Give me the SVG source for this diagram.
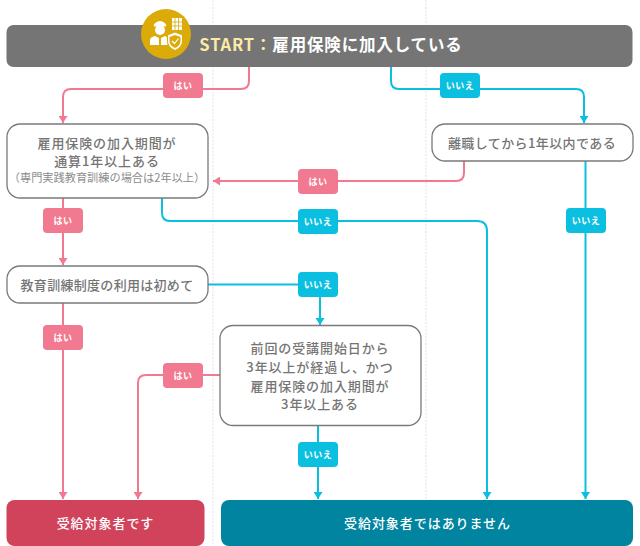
<svg xmlns="http://www.w3.org/2000/svg" width="640" height="546" viewBox="0 0 640 546">
<defs>
<marker id="arrow-pink" markerUnits="userSpaceOnUse" markerWidth="7" markerHeight="9" refX="7" refY="4.5" orient="auto" viewBox="0 0 7 9"><path d="M0 0L7 4.5L0 9Z" fill="#f27a90"/></marker>
<marker id="arrow-blue" markerUnits="userSpaceOnUse" markerWidth="7" markerHeight="9" refX="7" refY="4.5" orient="auto" viewBox="0 0 7 9"><path d="M0 0L7 4.5L0 9Z" fill="#0bbfe0"/></marker>
</defs>
<style>
text{font-family:"Noto Sans CJK JP","Noto Sans",sans-serif;text-anchor:middle;font-weight:700}
.guide{stroke:#e2e2e2;stroke-width:1;stroke-dasharray:2 1.5;fill:none}
.pink{fill:none;stroke:#f27a90;stroke-width:2;marker-end:url(#arrow-pink)}
.blue{fill:none;stroke:#0bbfe0;stroke-width:2;marker-end:url(#arrow-blue)}
.box{fill:#fff;stroke:#7a7a7a;stroke-width:1.3}
.t{font-size:13px;fill:#757575;letter-spacing:.9px;font-weight:500}
.s{font-size:11.2px;fill:#8c8c8c;font-weight:400}
.b{font-size:9px;fill:#fff;letter-spacing:.5px}
.bp{fill:#f27a90}
.bb{fill:#0bbfe0}
.r{font-size:13px;fill:#fff;letter-spacing:.95px;font-weight:500}
</style>
<path class="guide" d="M213 0V546M426 0V546"/>
<g id="connectors">
<path class="pink" d="M249 67V81Q249 89 241 89H71Q63 89 63 97V123"/>
<path class="blue" d="M391 67V81Q391 89 399 89H576Q584 89 584 97V123"/>
<path class="pink" d="M464 161V173Q464 181 456 181H213"/>
<path class="blue" d="M162 198V213Q162 221 170 221H477Q487 221 487 231V499"/>
<path class="blue" d="M585.500 161V499"/>
<path class="pink" d="M63 198V265"/>
<path class="blue" d="M208 284.500H312Q320 284.500 320 292V325"/>
<path class="pink" d="M63 303V499"/>
<path class="pink" d="M220 375H146Q138 375 138 383V499"/>
<path class="blue" d="M318 425V499"/>
</g>
<g id="badges">
<g><rect class="bp" x="163" y="73" width="40" height="25" rx="4"/><text class="b" x="183" y="89">はい</text></g>
<g><rect class="bb" x="440" y="73" width="40" height="25" rx="4"/><text class="b" x="460" y="89">いいえ</text></g>
<g><rect class="bp" x="298" y="169" width="40" height="25" rx="4"/><text class="b" x="318" y="185">はい</text></g>
<g><rect class="bb" x="298" y="209" width="40" height="25" rx="4"/><text class="b" x="318" y="225">いいえ</text></g>
<g><rect class="bb" x="566" y="208" width="40" height="25" rx="4"/><text class="b" x="586" y="224">いいえ</text></g>
<g><rect class="bp" x="43" y="208" width="40" height="25" rx="4"/><text class="b" x="63" y="224">はい</text></g>
<g><rect class="bb" x="298" y="272" width="40" height="25" rx="4"/><text class="b" x="318" y="288">いいえ</text></g>
<g><rect class="bp" x="43" y="325" width="40" height="25" rx="4"/><text class="b" x="63" y="341">はい</text></g>
<g><rect class="bp" x="163" y="363" width="40" height="25" rx="4"/><text class="b" x="183" y="379">はい</text></g>
<g><rect class="bb" x="298" y="442" width="40" height="25" rx="4"/><text class="b" x="318" y="458">いいえ</text></g>
</g>
<g id="start">
<rect x="6.500" y="25" width="626" height="42" rx="7" fill="#757575"/>
<text x="331" y="51" font-size="16.500" fill="#fff" letter-spacing=".85" font-weight="500"><tspan fill="#fde9a8">START：</tspan>雇用保険に加入している</text>
<circle cx="166" cy="34" r="25" fill="#dbab0a"/>
<g fill="#fff">
<path d="M172 18H182V30H172Z"/>
<circle cx="160" cy="30" r="5"/>
<path d="M153.500 25Q160 17 166.500 25L165.500 26.500H154.500Z"/>
<path d="M150 45V40Q150 37 155 36L159 38V45Z"/>
<path d="M161 38L165 36Q167 37 167.500 38V45H161Z"/>
<path d="M175 32L182.500 35V41Q182.500 47 175 50.500Q167.500 47 167.500 41V35Z" stroke="#dbab0a"/>
</g>
<path d="M175 30V18M178.500 30V18M172 22H182M172 26H182" stroke="#dbab0a" stroke-width=".8" fill="none"/>
<path d="M175 35L180.500 37V41Q180.500 45.500 175 48Q169.500 45.500 169.500 41V37Z" fill="#dbab0a"/>
<path d="M172 41L174.500 43.500L178.500 38.500" fill="none" stroke="#fff" stroke-width="1.200"/>
</g>
<g id="n1">
<rect class="box" x="7" y="124" width="201" height="74" rx="13"/>
<text class="t" x="107" y="148">雇用保険の加入期間が</text>
<text class="t" x="107" y="166">通算1年以上ある</text>
<text class="s" x="107" y="182">（専門実践教育訓練の場合は2年以上）</text>
</g>
<g id="n2">
<rect class="box" x="432" y="124" width="201" height="37" rx="13"/>
<text class="t" x="532" y="148" style="letter-spacing:.4px">離職してから1年以内である</text>
</g>
<g id="n3">
<rect class="box" x="7" y="266" width="201" height="37" rx="13"/>
<text class="t" x="107" y="290" style="letter-spacing:.3px">教育訓練制度の利用は初めて</text>
</g>
<g id="n4">
<rect class="box" x="220" y="325.500" width="201" height="100" rx="13"/>
<text class="t" x="320" y="353">前回の受講開始日から</text>
<text class="t" x="320" y="372">3年以上が経過し、かつ</text>
<text class="t" x="320" y="391">雇用保険の加入期間が</text>
<text class="t" x="320" y="409">3年以上ある</text>
</g>
<g id="yes">
<rect x="6.500" y="500" width="198" height="46" rx="8" fill="#d1435b"/>
<text class="r" x="105.500" y="528">受給対象者です</text>
</g>
<g id="no">
<rect x="221" y="500" width="412" height="46" rx="8" fill="#00849f"/>
<text class="r" x="427.500" y="528">受給対象者ではありません</text>
</g>
</svg>
